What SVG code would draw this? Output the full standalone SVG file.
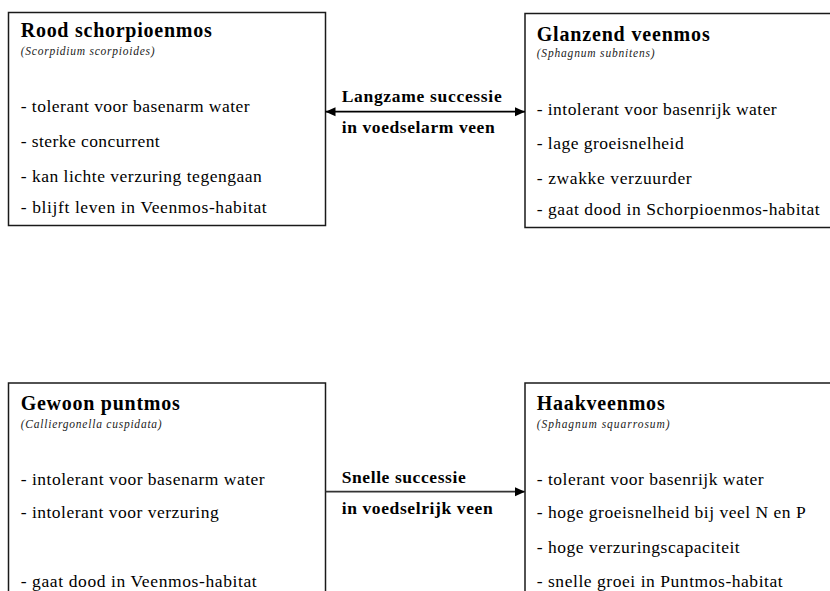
<svg xmlns="http://www.w3.org/2000/svg" width="830" height="591" viewBox="0 0 830 591">
<style>
.box{fill:#fff;stroke:#1a1a1a;stroke-width:1.5}
text{font-family:"Liberation Serif","Times New Roman",serif;fill:#000}
.t{font-size:20px;font-weight:bold}
.s{font-size:11.5px;font-style:italic;fill:#222}
.b{font-size:17.5px}
.l{font-size:17.5px;font-weight:bold}
.c{stroke:#000;stroke-width:1.8;fill:none}
</style>
<defs>
<marker id="ah" viewBox="0 0 10 10" refX="10" refY="5" markerWidth="10" markerHeight="10" markerUnits="userSpaceOnUse" orient="auto-start-reverse">
<path d="M0,0.5 L10,5 L0,9.5 Z" fill="#000"/>
</marker>
</defs>
<rect width="830" height="591" fill="#fff"/>
<g id="rood">
<rect class="box" x="8.5" y="12.5" width="317" height="213"/>
<text class="t" x="20.7" y="37" textLength="191" lengthAdjust="spacing">Rood schorpioenmos</text>
<text class="s" x="20.7" y="55" textLength="134" lengthAdjust="spacing">(Scorpidium scorpioides)</text>
<text class="b" x="20.7" y="112" textLength="229" lengthAdjust="spacing">- tolerant voor basenarm water</text>
<text class="b" x="20.7" y="147" textLength="139" lengthAdjust="spacing">- sterke concurrent</text>
<text class="b" x="20.7" y="182" textLength="241" lengthAdjust="spacing">- kan lichte verzuring tegengaan</text>
<text class="b" x="20.7" y="213" textLength="246" lengthAdjust="spacing">- blijft leven in Veenmos-habitat</text>
</g>
<g id="glanzend">
<rect class="box" x="525" y="13.5" width="320" height="214"/>
<text class="t" x="536.7" y="40.5" textLength="173" lengthAdjust="spacing">Glanzend veenmos</text>
<text class="s" x="536.7" y="57" textLength="118" lengthAdjust="spacing">(Sphagnum subnitens)</text>
<text class="b" x="536.7" y="115" textLength="240" lengthAdjust="spacing">- intolerant voor basenrijk water</text>
<text class="b" x="536.7" y="149" textLength="147" lengthAdjust="spacing">- lage groeisnelheid</text>
<text class="b" x="536.7" y="184" textLength="155" lengthAdjust="spacing">- zwakke verzuurder</text>
<text class="b" x="536.7" y="215" textLength="283" lengthAdjust="spacing">- gaat dood in Schorpioenmos-habitat</text>
</g>
<g id="gewoon">
<rect class="box" x="8.5" y="383" width="317" height="220"/>
<text class="t" x="20.7" y="410" textLength="159" lengthAdjust="spacing">Gewoon puntmos</text>
<text class="s" x="20.7" y="428" textLength="141" lengthAdjust="spacing">(Calliergonella cuspidata)</text>
<text class="b" x="20.7" y="485" textLength="244" lengthAdjust="spacing">- intolerant voor basenarm water</text>
<text class="b" x="20.7" y="518" textLength="198" lengthAdjust="spacing">- intolerant voor verzuring</text>
<text class="b" x="20.7" y="587" textLength="236" lengthAdjust="spacing">- gaat dood in Veenmos-habitat</text>
</g>
<g id="haak">
<rect class="box" x="525" y="383" width="320" height="220"/>
<text class="t" x="536.7" y="410" textLength="128" lengthAdjust="spacing">Haakveenmos</text>
<text class="s" x="536.7" y="428" textLength="133" lengthAdjust="spacing">(Sphagnum squarrosum)</text>
<text class="b" x="536.7" y="485" textLength="227" lengthAdjust="spacing">- tolerant voor basenrijk water</text>
<text class="b" x="536.7" y="518" textLength="269" lengthAdjust="spacing">- hoge groeisnelheid bij veel N en P</text>
<text class="b" x="536.7" y="553" textLength="203" lengthAdjust="spacing">- hoge verzuringscapaciteit</text>
<text class="b" x="536.7" y="587" textLength="246" lengthAdjust="spacing">- snelle groei in Puntmos-habitat</text>
</g>
<g id="connectors">
<line class="c" x1="325.5" y1="111.7" x2="525" y2="111.7" marker-start="url(#ah)" marker-end="url(#ah)"/>
<text class="l" x="341.7" y="102.3" textLength="160" lengthAdjust="spacing">Langzame successie</text>
<text class="l" x="341.7" y="133.3" textLength="153" lengthAdjust="spacing">in voedselarm veen</text>
<line class="c" x1="325.5" y1="491.7" x2="525" y2="491.7" marker-end="url(#ah)" style="stroke:#333"/>
<text class="l" x="341.7" y="482.7" textLength="124" lengthAdjust="spacing">Snelle successie</text>
<text class="l" x="341.7" y="514.3" textLength="151" lengthAdjust="spacing">in voedselrijk veen</text>
</g>
</svg>
